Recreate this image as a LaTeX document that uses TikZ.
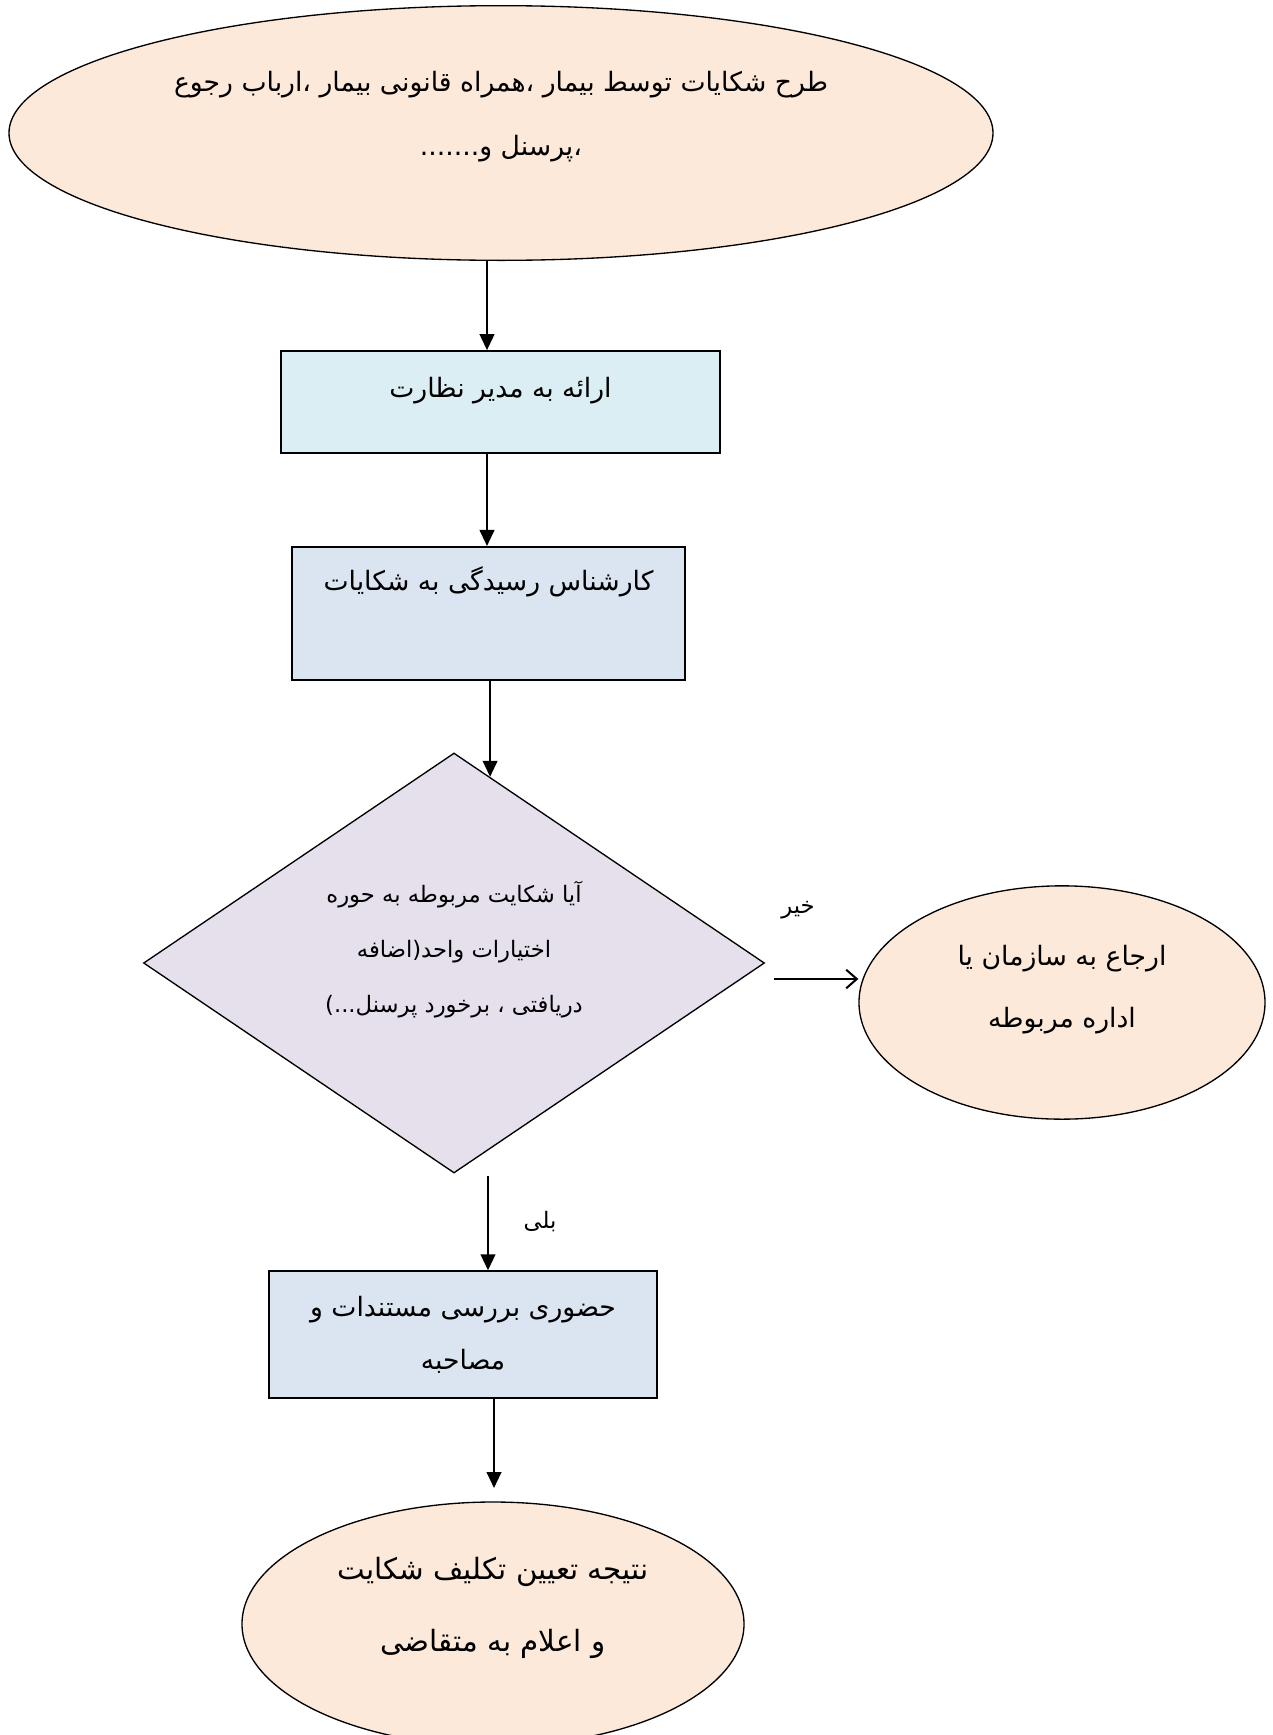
\documentclass[tikz,border=0pt]{standalone}
\usepackage{fontspec}
\usepackage{xcolor}
\usetikzlibrary{shapes.geometric,arrows.meta,calc}
\newfontfamily\arabicfont[Script=Arabic]{DejaVu Sans}
\TeXXeTstate=1
\newcommand{\fa}[1]{\beginR #1\endR}
\definecolor{peach}{RGB}{253,233,217}
\definecolor{aquabox}{RGB}{218,238,243}
\definecolor{bluebox}{RGB}{219,229,241}
\definecolor{lilac}{RGB}{229,224,236}

\begin{document}
\begin{tikzpicture}[x=0.75pt,y=0.75pt,yscale=-1,xscale=1,
  oval/.style={ellipse, draw, fill=peach, line width=1pt, inner sep=0pt, align=center, font=\arabicfont\fontsize{20}{48}\selectfont},
  stepbox/.style={rectangle, draw, line width=1.3pt, inner sep=0pt, align=center, font=\arabicfont\fontsize{20}{40}\selectfont},
  query/.style={diamond, aspect=1.48, draw, fill=lilac, line width=1pt, inner sep=0pt, align=center, font=\arabicfont\fontsize{17}{41}\selectfont},
  flow/.style={line width=1.5pt, -{Triangle[length=12pt,width=11pt]}},
  flowopen/.style={line width=1.5pt, -{Straight Barb[length=8pt,width=14pt]}},
  lbl/.style={inner sep=0pt, font=\arabicfont\fontsize{17}{20}\selectfont}
]
%set diagram to the page size
\useasboundingbox (0,0) rectangle (1273,1735);

%Shapes
\node[oval, minimum width=738pt, minimum height=191pt, text depth=30pt] (start) at (501,133)
  {\fa{طرح شکایات توسط بیمار ،همراه قانونی بیمار ،ارباب رجوع}\\\fa{،پرسنل و.......}};
\node[stepbox, fill=aquabox, minimum width=329pt, minimum height=76.5pt, text depth=22pt] (manager) at (500.5,402)
  {\fa{ارائه به مدیر نظارت}};
\node[stepbox, fill=bluebox, minimum width=295pt, minimum height=100pt] (expert) at (488.5,613.5)
  {\fa{کارشناس رسیدگی به شکایات}\\\strut};
\node[query, minimum width=465.75pt, minimum height=315pt, text depth=24pt] (scope) at (454,963)
  {\fa{آیا شکایت مربوطه به حوره}\\\fa{اختیارات واحد(اضافه}\\\fa{دریافتی ، برخورد پرسنل...)}};
\node[oval, minimum width=304.5pt, minimum height=175pt, text depth=24pt, font=\arabicfont\fontsize{20}{46}\selectfont] (refer) at (1062,1002.5)
  {\fa{ارجاع به سازمان یا}\\\fa{اداره مربوطه}};
\node[stepbox, fill=bluebox, minimum width=291pt, minimum height=95pt] (review) at (463,1334.5)
  {\fa{حضوری بررسی مستندات و}\\\fa{مصاحبه}};
\node[oval, minimum width=376.5pt, minimum height=183pt, text depth=30pt, font=\arabicfont\fontsize{22}{54}\selectfont] (result) at (493,1624)
  {\fa{نتیجه تعیین تکلیف شکایت}\\\fa{و اعلام به متقاضی}};

%Labels
\node[lbl] (no) at (798,910) {\fa{خیر}};
\node[lbl] (yes) at (540,1222) {\fa{بلی}};

%Connectors
\coordinate (c1) at (487,0);
\coordinate (c4) at (488,0);
\coordinate (c5) at (494,0);
\coordinate (noFrom) at (774,979);
\coordinate (scopeIn) at ($(scope.north)!0.116!(scope.east)$);
\draw[flow] (start.south -| c1) -- (manager.north -| c1);
\draw[flow] (manager.south -| c1) -- (expert.north -| c1);
\draw[flow] (expert.south -| scopeIn) -- (scopeIn);
\draw[flowopen] (noFrom) -- (noFrom -| refer.west);
\draw[flow, shorten <=2pt] (scope.south -| c4) -- (review.north -| c4);
\draw[flow, shorten >=10pt] (review.south -| c5) -- (result.north -| c5);

\end{tikzpicture}
\end{document}
